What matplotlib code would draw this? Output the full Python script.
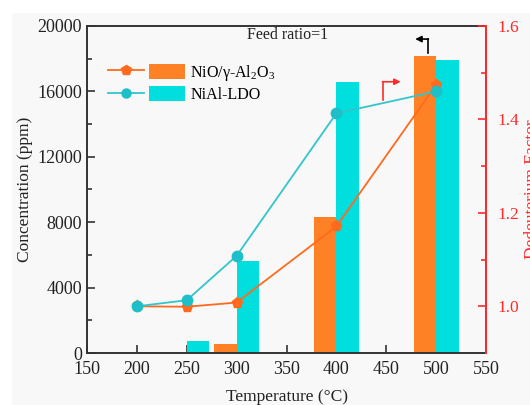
import matplotlib
matplotlib.use("Agg")
import matplotlib.pyplot as plt
from matplotlib.lines import Line2D
from matplotlib.patches import Patch, Rectangle
from matplotlib.legend_handler import HandlerTuple

plt.rcParams['font.family'] = ['Liberation Serif', 'DejaVu Serif']
plt.rcParams['mathtext.fontset'] = 'custom'
plt.rcParams['mathtext.rm'] = 'Liberation Serif'
plt.rcParams['mathtext.it'] = 'Liberation Serif:italic'

# ---- data ----
temps = [200, 250, 300, 400, 500]
conc_nio = [0, 0, 550, 8300, 18150]
conc_ldo = [0, 750, 5600, 16600, 17900]
df_nio = [1.0, 0.999, 1.008, 1.171, 1.474]
df_ldo = [1.0, 1.013, 1.108, 1.413, 1.460]
labels = ['NiO/γ-Al$_2$O$_3$', 'NiAl-LDO']
x_ticks = [150, 200, 250, 300, 350, 400, 450, 500, 550]
y_ticks = [0, 4000, 8000, 12000, 16000, 20000]
y2_ticks = [1.0, 1.2, 1.4, 1.6]

c_bar_o = '#FF8125'
c_bar_c = '#00DEDE'
c_line_o = '#FF6A1E'
c_line_c = '#30C6CC'
red = '#FF2A2A'
dark = '#333333'

fig = plt.figure(figsize=(5.3, 4.05), dpi=100)
fig.patch.set_facecolor('white')
fig.add_artist(Rectangle((12/530, 0), 1, (405-13)/405, transform=fig.transFigure,
                         facecolor='#F8F8F8', edgecolor='none', zorder=-10))

ax = fig.add_axes([87/530, (405-353)/405, (486-87)/530, (353-26)/405])
ax.set_facecolor('none')
w = 22.5
ax.bar([t - w/2 for t in temps], conc_nio, width=w, color=c_bar_o, zorder=2)
ax.bar([t + w/2 for t in temps], conc_ldo, width=w, color=c_bar_c, zorder=2)
ax.set_xlim(150, 550)
ax.set_ylim(0, 20000)
ax.set_xticks(x_ticks)
ax.set_yticks(y_ticks)
ax.set_yticks([2000, 6000, 10000, 14000, 18000], minor=True)
ax.tick_params(axis='both', direction='in', labelsize=13, length=6, width=1.2, color=dark, labelcolor='#222222')
ax.tick_params(axis='y', which='minor', direction='in', length=3.5, width=1.2, color=dark)
ax.tick_params(axis='x', pad=6)
for s in ax.spines.values():
    s.set_color(dark)
    s.set_linewidth(1.4)
ax.set_xlabel('Temperature (°C)', fontsize=12.5, labelpad=8, color='#222222')
ax.set_ylabel('Concentration (ppm)', fontsize=12.5, labelpad=3, color='#222222')

ax2 = ax.twinx()
ax2.plot(temps, df_nio, color=c_line_o, lw=1.3, marker='p', ms=8, mfc=c_line_o, mec=c_line_o, zorder=3)
ax2.plot(temps, df_ldo, color=c_line_c, lw=1.3, marker='o', ms=7.5, mfc='#1EBFC8', mec='#1EBFC8', zorder=4)
ax2.set_ylim(0.9, 1.6)
ax2.set_yticks(y2_ticks)
ax2.set_yticks([1.1, 1.3, 1.5], minor=True)
ax2.yaxis.set_major_formatter(matplotlib.ticker.FormatStrFormatter('%.1f'))
ax2.tick_params(axis='y', direction='in', labelsize=12.5, length=6, width=1.2, color=red, labelcolor=red, pad=8)
ax2.tick_params(axis='y', which='minor', direction='in', length=3.5, width=1.2, color=red)
ax2.spines['right'].set_color(red)
ax2.spines['right'].set_linewidth(1.4)
for k in ['left', 'top', 'bottom']:
    ax2.spines[k].set_visible(False)
ax2.set_ylabel('Dedeuterium Factor', fontsize=12.5, color=red, labelpad=4)

# legend
h1 = (Line2D([], [], color=c_line_o, lw=1.3, marker='p', ms=7, mfc=c_line_o, mec=c_line_o),
      Patch(facecolor=c_bar_o, edgecolor='none'))
h2 = (Line2D([], [], color=c_line_c, lw=1.3, marker='o', ms=6.5, mfc='#1EBFC8', mec='#1EBFC8'),
      Patch(facecolor=c_bar_c, edgecolor='none'))
ax2.legend([h1, h2], labels, handler_map={tuple: HandlerTuple(ndivide=None, pad=0.3)},
           loc='upper left', bbox_to_anchor=(0.053, 0.887), frameon=False,
           fontsize=11.5, handlelength=4.8, handleheight=1.1, handletextpad=0.35,
           labelspacing=0.2, borderpad=0, borderaxespad=0)

# annotations
ax.text(351, 19450, 'Feed ratio=1', ha='center', va='center', fontsize=11.5, color='#222222')
ax.plot([491.6, 491.6], [18350, 19200], color='black', lw=1.2, zorder=5)
ax.annotate('', xy=(479, 19200), xytext=(492.2, 19200),
            arrowprops=dict(arrowstyle='-|>', color='black', lw=1.2, mutation_scale=9,
                            shrinkA=0, shrinkB=0), zorder=5)
ax.plot([446.8, 446.8], [15470, 16590], color=red, lw=1.2, zorder=5)
ax.annotate('', xy=(464.5, 16590), xytext=(446.2, 16590),
            arrowprops=dict(arrowstyle='-|>', color=red, lw=1.2, mutation_scale=9,
                            shrinkA=0, shrinkB=0), zorder=5)

fig.savefig('out.png', dpi=100, facecolor=fig.get_facecolor())
